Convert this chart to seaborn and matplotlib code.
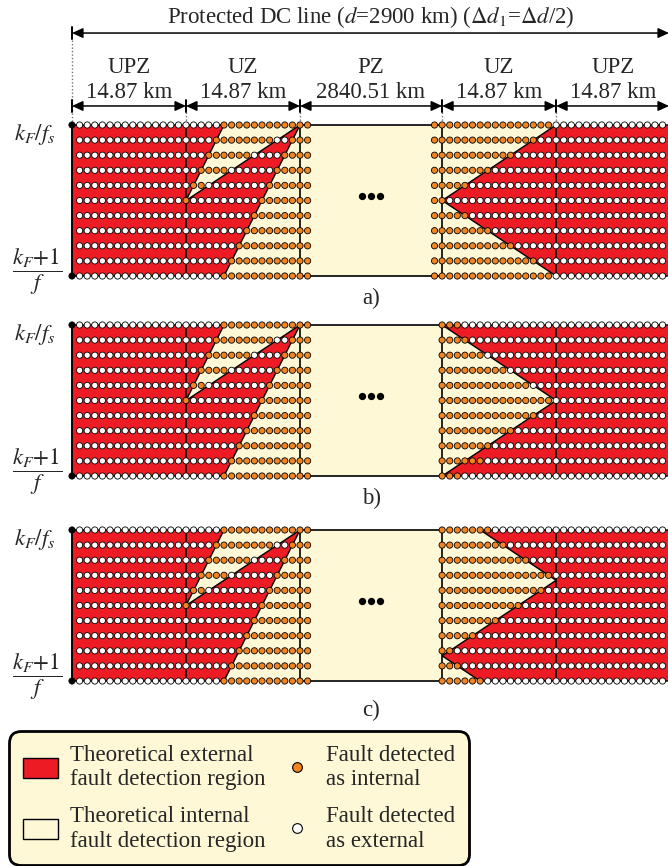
import numpy as np
import pandas as pd
import matplotlib
matplotlib.use("Agg")
import matplotlib.pyplot as plt
import seaborn as sns
from matplotlib.patches import Polygon, Rectangle, Patch
from matplotlib.lines import Line2D

# ------------------------------------------------------------------ data
zone_names = ["UPZ", "UZ", "PZ", "UZ", "UPZ"]
zone_lengths = ["14.87 km", "14.87 km", "2840.51 km", "14.87 km", "14.87 km"]
title_text = r"Protected DC line ($d$=2900 km) ($\Delta d_{1}$=$\Delta d$/2)"
panel_labels = ["a)", "b)", "c)"]
y_top_label = r"$k_F/f_s$"
y_bot_label = r"$\dfrac{k_F{+}1}{f}$"

N_UPZ = 15          # dot intervals in one UPZ
N_UZ = 15           # dot intervals in one UZ
N_ROWS = 10         # sampling-instant intervals
PZ_GAP = 18.7       # drawn width of the PZ box (in dot intervals)

# theoretical external region, left end: (column, row)
left_red = [(0, 0), (20, 0), (15, 5), (30, 0), (20, 10), (0, 10)]
# theoretical external region, right end: (column counted from right end, row)
right_red = {
    "a": [(0, 0), (15, 0), (30, 5), (15, 10), (0, 10)],
    "b": [(0, 0), (30, 0), (15, 5), (30, 10), (0, 10)],
    "c": [(0, 0), (25, 0), (15, 10 / 3), (30, 25 / 3), (25, 10), (0, 10)],
}

# dot results, left UZ + PZ columns 15..31 (o = internal, w = external)
left_dots = [
    "wwwwwoooooooooooo",
    "wwwwoooooooowwooo",
    "wwwoooooowwwwoooo",
    "wwoooowwwwwwooooo",
    "woowwwwwwwwoooooo",
    "owwwwwwwwwooooooo",
    "wwwwwwwwwoooooooo",
    "wwwwwwwwooooooooo",
    "wwwwwwwoooooooooo",
    "wwwwwwooooooooooo",
    "wwwwwoooooooooooo",
]
# dot results, right UZ + PZ columns counted from right end, 15..
right_dots = {
    "a": [
        "woooooooooooooooo",
        "wwwoooooooooooooo",
        "wwwwwwooooooooooo",
        "wwwwwwwwwoooooooo",
        "wwwwwwwwwwwwooooo",
        "wwwwwwwwwwwwwwwoo",
        "wwwwwwwwwwwwooooo",
        "wwwwwwwwwoooooooo",
        "wwwwwwooooooooooo",
        "wwwoooooooooooooo",
        "woooooooooooooooo",
    ],
    "b": [
        "wwwwwwwwwwwwwooo",
        "wwwwwwwwwwwwoooo",
        "wwwwwwwwwwoooooo",
        "wwwwwwwooooooooo",
        "wwwwoooooooooooo",
        "wooooooooooooooo",
        "wwwooooooooooooo",
        "wwwwwwoooooooooo",
        "wwwwwwwwwooooooo",
        "wwwwwwwwwwoooooo",
        "wwwwwwwwwwwwwooo",
    ],
    "c": [
        "wwwwwwwwwooooooo",
        "wwwwwwwooooooooo",
        "wwwwoooooooooooo",
        "wooooooooooooooo",
        "wwoooooooooooooo",
        "wwwwwooooooooooo",
        "wwwwwwwwoooooooo",
        "wwwwwwwwwwwooooo",
        "wwwwwwwwwwwwwwoo",
        "wwwwwwwwwwwwwooo",
        "wwwwwwwwwwoooooo",
    ],
}

# ------------------------------------------------------------------ style
RED = "#ED1C24"
CREAM = "#FEF8D6"
ORANGE = "#F28522"
FS = 16.5

sns.set_theme(style="white")
plt.rcParams["font.family"] = ["Liberation Serif", "DejaVu Serif"]
plt.rcParams["mathtext.fontset"] = "stix"

R = 2 * N_UPZ + 2 * N_UZ + PZ_GAP      # right end of the line (column units)
PX_COL, X0_PX, PX_ROW = 7.6, 72.0, 15.1
W_PX, H_PX = 668, 866

fig = plt.figure(figsize=(W_PX / 100, H_PX / 100), dpi=100)


def make_axes(top_px, y0, y1):
    ax = fig.add_axes([0, 1 - y1 / H_PX, 1, (y1 - y0) / H_PX])
    ax.set_xlim(-X0_PX / PX_COL, (W_PX - X0_PX) / PX_COL)
    ax.set_ylim((y1 - top_px) / PX_ROW, (y0 - top_px) / PX_ROW)
    ax.set_axis_off()
    return ax


panel_axes = {
    "a": make_axes(125, 0, 292),
    "b": make_axes(325, 292, 505),
    "c": make_axes(530, 505, 727),
}
label_rows = {"a": 11.5, "b": 11.5, "c": 11.95}

bounds = [0, N_UPZ, N_UPZ + N_UZ, R - N_UPZ - N_UZ, R - N_UPZ, R]
pal = {"o": ORANGE, "w": "white", "k": "black"}

for i, key in enumerate("abc"):
    ax = panel_axes[key]
    # background (theoretical internal region)
    ax.add_patch(Rectangle((0, 0), R, N_ROWS, facecolor=CREAM, edgecolor="none", zorder=1))
    # theoretical external regions
    ax.add_patch(Polygon(left_red, closed=True, facecolor=RED, edgecolor="black",
                         lw=1.0, zorder=2))
    ax.add_patch(Polygon([(R - c, r) for c, r in right_red[key]], closed=True,
                         facecolor=RED, edgecolor="black", lw=1.0, zorder=2))
    # PZ box
    ax.add_patch(Rectangle((bounds[2], 0), bounds[3] - bounds[2], N_ROWS,
                           facecolor=CREAM, edgecolor="black", lw=1.2, zorder=3))
    for xb in (bounds[0], bounds[1], bounds[4]):
        ax.plot([xb, xb], [0, N_ROWS], color="black", lw=1.2, zorder=3)

    # dots
    recs = []
    for r in range(N_ROWS + 1):
        if r in (0, N_ROWS):
            recs.append((0, r, "k"))
        for c in range(1, N_UPZ):
            recs.append((c, r, "w"))
        for k, ch in enumerate(left_dots[r]):
            recs.append((N_UPZ + k, r, ch))
        for c in range(1, N_UPZ):
            recs.append((R - c, r, "w"))
        for k, ch in enumerate(right_dots[key][r]):
            recs.append((R - N_UPZ - k, r, ch))
    df = pd.DataFrame(recs, columns=["x", "row", "cls"])
    sns.scatterplot(data=df, x="x", y="row", hue="cls", palette=pal, s=20,
                    edgecolor="black", linewidth=0.6, legend=False, ax=ax, zorder=5)
    for coll in ax.collections:
        coll.set_clip_on(False)

    # ellipsis inside PZ
    ax.scatter([R / 2 - 1.2, R / 2, R / 2 + 1.2], [4.7] * 3, s=18, color="black",
               zorder=6, clip_on=False)

    # y labels
    ax.text(-4.9, 0.66, y_top_label, fontsize=FS, ha="center", va="center")
    ax.text(-4.6, 9.75, y_bot_label, fontsize=FS, ha="center", va="center")
    # panel label
    ax.text(R / 2, label_rows[key], panel_labels[i], fontsize=FS, ha="center", va="center")
    ax.set_xlabel("")
    ax.set_ylabel("")

# ------------------------------------------------------------------ header
ax = panel_axes["a"]
y_title_arrow = -6.09
ax.annotate("", xy=(R - 0.15, y_title_arrow), xytext=(0, y_title_arrow),
            arrowprops=dict(arrowstyle="<|-|>,head_length=0.65,head_width=0.3",
                            color="black", lw=1.1, shrinkA=0, shrinkB=0,
                            mutation_scale=10),
            annotation_clip=False)
ax.plot([0, 0], [-6.5, -5.7], color="black", lw=1.4, clip_on=False)
ax.text(R / 2, -6.75, title_text, fontsize=FS, ha="center", va="baseline")

y_dim = -1.26
for k in range(5):
    x0, x1 = bounds[k], bounds[k + 1]
    ax.annotate("", xy=(x1 - (0.15 if k == 4 else 0), y_dim), xytext=(x0, y_dim),
                arrowprops=dict(arrowstyle="<|-|>,head_length=0.65,head_width=0.3",
                                color="black", lw=1.1, shrinkA=0, shrinkB=0,
                                mutation_scale=10),
                annotation_clip=False)
    xc = (x0 + x1) / 2
    ax.text(xc, -3.44, zone_names[k], fontsize=FS, ha="center", va="baseline")
    ax.text(xc, -1.79, zone_lengths[k], fontsize=FS, ha="center", va="baseline")
for xb in bounds[:5]:
    ax.plot([xb, xb], [-1.66, -0.86], color="black", lw=1.4, clip_on=False)
# dotted guide lines
ax.plot([0, 0], [-5.6, 0], color="0.45", lw=1.0, ls=(0, (1, 1.5)), clip_on=False, zorder=0)
for xb in bounds[1:5]:
    ax.plot([xb, xb], [-0.86, 0], color="0.45", lw=1.0, ls=(0, (1, 1.5)),
            clip_on=False, zorder=0)

# ------------------------------------------------------------------ legend
handles = [
    Patch(facecolor=RED, edgecolor="black", lw=1.0),
    Patch(facecolor=CREAM, edgecolor="black", lw=1.0),
    Line2D([], [], ls="", marker="o", ms=7, mfc=ORANGE, mec="black", mew=0.8),
    Line2D([], [], ls="", marker="o", ms=7, mfc="white", mec="black", mew=0.8),
]
labels = [
    "Theoretical external\nfault detection region",
    "Theoretical internal\nfault detection region",
    "Fault detected\nas internal",
    "Fault detected\nas external",
]
leg = fig.legend(handles, labels, ncol=2, loc="upper left",
                 bbox_to_anchor=(14 / W_PX, 1 - 736 / H_PX), frameon=True,
                 fancybox=True, facecolor=CREAM, edgecolor="black", framealpha=1,
                 fontsize=FS, handlelength=1.5, handleheight=1.0, handletextpad=0.55,
                 columnspacing=0.6, labelspacing=0.7, borderpad=0.4, borderaxespad=0)
leg.get_frame().set_linewidth(2.0)
leg.get_frame().set_boxstyle("round,pad=0.2,rounding_size=0.5")

fig.savefig("out.png", dpi=100, facecolor="white")
